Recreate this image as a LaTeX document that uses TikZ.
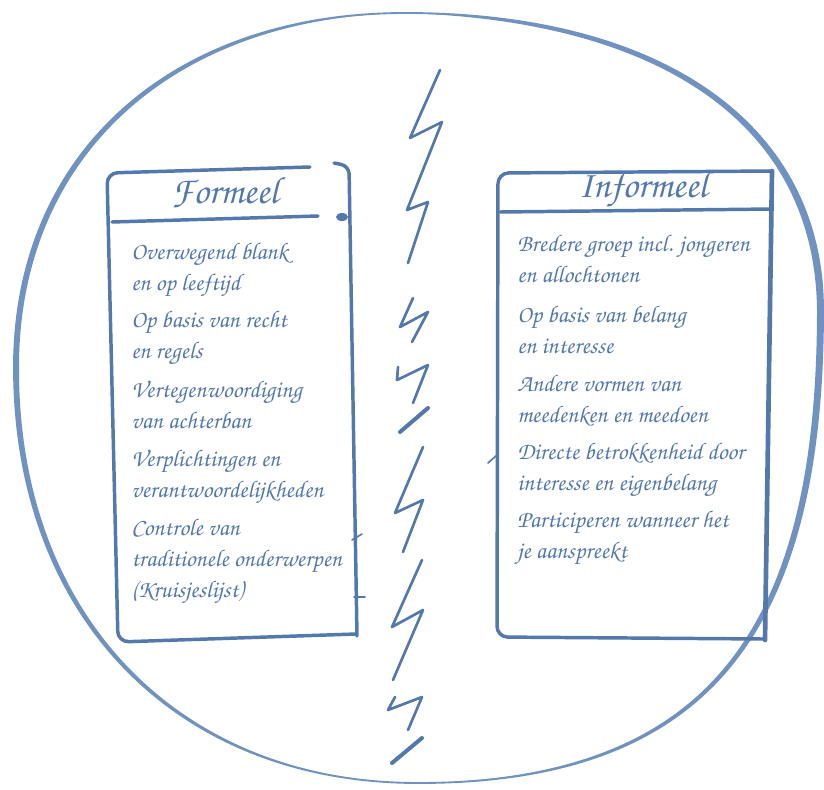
\documentclass[tikz,border=0pt]{standalone}
\usepackage[T1]{fontenc}
\usepackage{tikz}
\definecolor{ink}{RGB}{82,120,172}
\definecolor{inklight}{RGB}{112,146,192}
\def\hand{\fontfamily{pzc}\fontseries{mb}\fontshape{it}\selectfont}
\tikzset{
	brush/.style={draw=ink, line width=2.6pt, line cap=round, line join=round},
	rim/.style={draw=inklight, line cap=round, line join=round},
	bolt/.style={brush, line width=2pt},
	head/.style={text=ink, inner sep=0pt, anchor=base, font=\hand\fontsize{28.5}{32}\selectfont},
	item/.style={text=ink, inner sep=0pt, anchor=base west, align=left, font=\hand\fontsize{18}{23}\selectfont},
}

\begin{document}
\begin{tikzpicture}[x=0.75pt, y=-0.75pt]
	\useasboundingbox (0,0) rectangle (824,789);
	\coordinate (top) at (405,13);
	\coordinate (right) at (823,310);
	\coordinate (bottom) at (418,783);
	\coordinate (left) at (14,367);
	\draw[rim, line width=1.4pt] (top) .. controls (664,13) and (823,126) .. (right)
		.. controls (823,641) and (701,783) .. (bottom)
		.. controls (176,783) and (14,617) .. (left)
		.. controls (14,155) and (170,13) .. cycle;
	\fill[inklight] (top) .. controls (664,13) and (823,126) .. (right)
		.. controls (823,641) and (701,783) .. (bottom)
		.. controls (700,779) and (817,641) .. (817,310)
		.. controls (815,126) and (664,21) .. cycle;
	\fill[inklight] (bottom) .. controls (176,783) and (14,617) .. (left)
		.. controls (14,155) and (170,13) .. (top)
		.. controls (172,17) and (19,157) .. (19,367)
		.. controls (18,614) and (177,781) .. cycle;

	\draw[brush, rounded corners=8] (310,167) -- (107,173) -- (118,642) -- (356,634);
	\draw[brush, rounded corners=6] (334,163) -- (349,166) -- (357,636);
	\draw[brush] (112,222) -- (318,216);
	\fill[ink] (342,217) ellipse [x radius=6, y radius=4];
	\draw[brush, line width=1.2pt] (352,540) -- (362,534);
	\draw[brush, line width=1.2pt] (354,597) -- (365,597);

	\draw[brush, rounded corners=8] (772,171) -- (498,173) -- (497,637) -- (764,639);
	\draw[brush, line width=3.5pt] (772,171) -- (765,640);
	\draw[brush] (500,212) -- (772,209);
	\draw[brush, line width=1.2pt] (497,455) -- (488,463);

	\node[head] (formeel) at (225,203) {Formeel};
	\node[head] (informeel) at (643,197) {Informeel};

	\node[item] (f1) at (131,290) {Overwegend blank\\en op leeftijd};
	\node[item] (f2) at (131,358) {Op basis van recht\\en regels};
	\node[item] (f3) at (131,428) {Vertegenwoordiging\\van achterban};
	\node[item] (f4) at (131,497) {Verplichtingen en\\verantwoordelijkheden};
	\node[item] (f5) at (131,597) {Controle van\\traditionele onderwerpen\\(Kruisjeslijst)};

	\node[item] (i1) at (517,282) {Bredere groep incl. jongeren\\en allochtonen};
	\node[item] (i2) at (517,353) {Op basis van belang\\en interesse};
	\node[item] (i3) at (517,422) {Andere vormen van\\meedenken en meedoen};
	\node[item] (i4) at (517,490) {Directe betrokkenheid door\\interesse en eigenbelang};
	\node[item] (i5) at (517,558) {Participeren wanneer het\\je aanspreekt};

	\draw[bolt] (440,70) -- (410,138) -- (442,122) -- (407,210) -- (428,202) -- (408,263);
	\draw[bolt] (413,298) -- (400,327) -- (428,312) -- (412,342);
	\draw[bolt] (398,367) -- (397,380) -- (428,365) -- (413,403);
	\draw[bolt, line width=3pt] (428,408) -- (400,432);
	\draw[bolt] (423,447) -- (395,513) -- (423,500) -- (403,552);
	\draw[bolt] (422,560) -- (392,627) -- (423,610) -- (393,680);
	\draw[bolt] (395,697) -- (388,710) -- (422,697) -- (408,730);
	\draw[bolt, line width=3pt] (422,738) -- (392,763);
\end{tikzpicture}
\end{document}
